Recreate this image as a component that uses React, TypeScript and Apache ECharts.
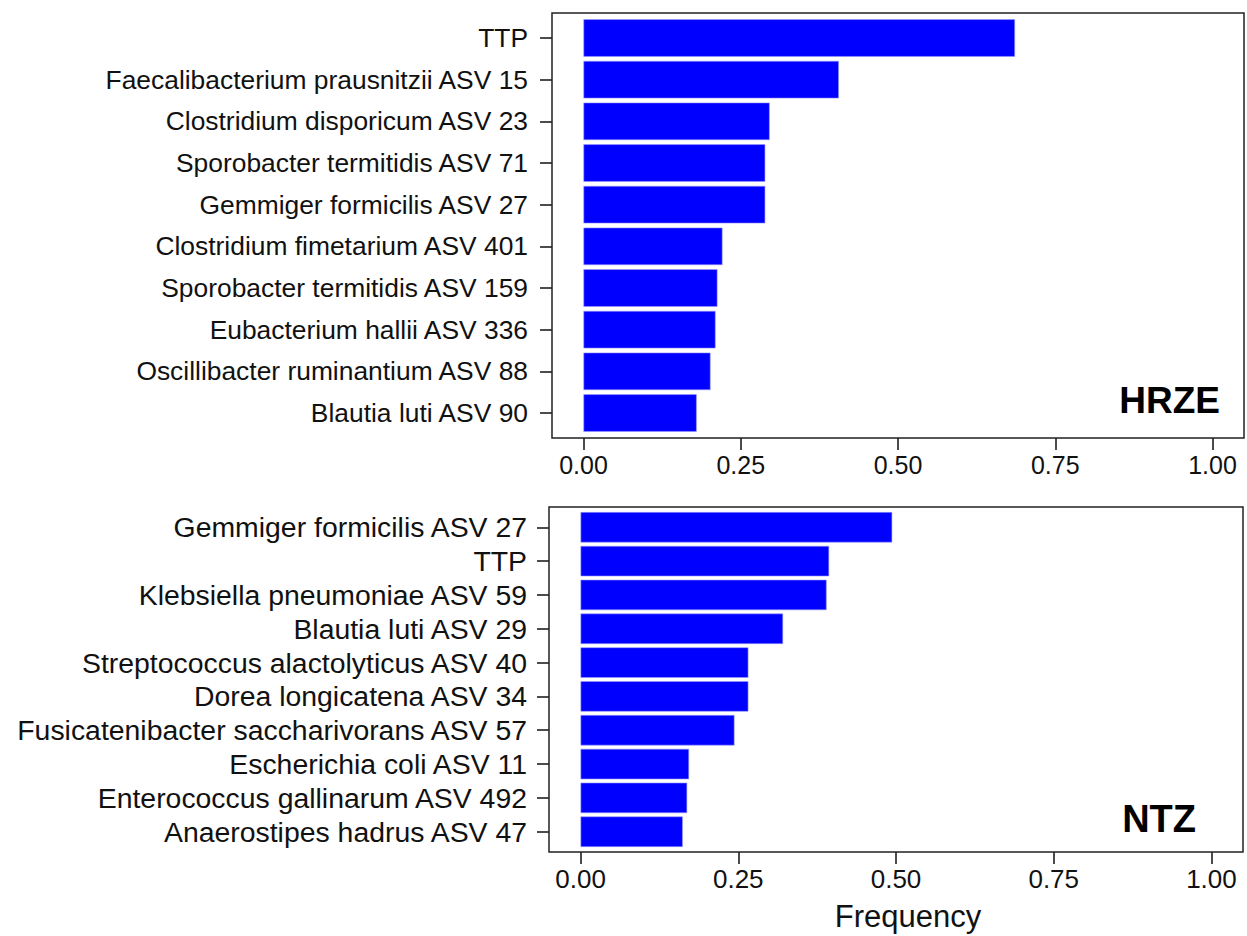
import React, { useEffect, useRef } from "react";
import * as echarts from "echarts";

const hrzeCategories = [
  "TTP",
  "Faecalibacterium prausnitzii ASV 15",
  "Clostridium disporicum ASV 23",
  "Sporobacter termitidis ASV 71",
  "Gemmiger formicilis ASV 27",
  "Clostridium fimetarium ASV 401",
  "Sporobacter termitidis ASV 159",
  "Eubacterium hallii ASV 336",
  "Oscillibacter ruminantium ASV 88",
  "Blautia luti ASV 90",
];
const hrzeValues = [0.686, 0.406, 0.296, 0.289, 0.289, 0.221, 0.213, 0.21, 0.202, 0.18];

const ntzCategories = [
  "Gemmiger formicilis ASV 27",
  "TTP",
  "Klebsiella pneumoniae ASV 59",
  "Blautia luti ASV 29",
  "Streptococcus alactolyticus ASV 40",
  "Dorea longicatena ASV 34",
  "Fusicatenibacter saccharivorans ASV 57",
  "Escherichia coli ASV 11",
  "Enterococcus gallinarum ASV 492",
  "Anaerostipes hadrus ASV 47",
];
const ntzValues = [0.494, 0.394, 0.39, 0.321, 0.266, 0.266, 0.244, 0.172, 0.169, 0.162];

const xTicks = [0, 0.25, 0.5, 0.75, 1];

const FONT = "'Liberation Sans', Arial, sans-serif";

export default function App() {
  const ref = useRef<HTMLDivElement>(null);
  useEffect(() => {
    document.body.style.margin = "0";
    const chart = echarts.init(ref.current!, null, { renderer: "svg" });

    const panels = [
      {
        box: { x: 552, y: 13, w: 692, h: 425 },
        cats: hrzeCategories,
        vals: hrzeValues,
        yFont: 26.4,
        xFont: 25,
        yMargin: 24,
      },
      {
        box: { x: 549, y: 507, w: 694, h: 345 },
        cats: ntzCategories,
        vals: ntzValues,
        yFont: 28.4,
        xFont: 26,
        yMargin: 22,
      },
    ];

    const grids: any[] = [];
    const xAxes: any[] = [];
    const yAxes: any[] = [];
    const series: any[] = [];
    const boxes: any[] = [];

    panels.forEach((p, i) => {
      const unit = p.box.h / 10.2;
      const top = p.box.y + 0.1 * unit;
      const height = 10 * unit;
      const offset = p.box.y + p.box.h - (top + height);
      grids.push({ left: p.box.x, top, width: p.box.w, height });
      xAxes.push({
        type: "value",
        gridIndex: i,
        min: -0.05,
        max: 1.05,
        offset,
        axisLine: { show: false, onZero: false },
        splitLine: { show: false },
        axisTick: {
          show: true,
          length: 12,
          customValues: xTicks,
          lineStyle: { color: "#111", width: 1.5 },
        },
        axisLabel: {
          customValues: xTicks,
          formatter: (v: number) => v.toFixed(2),
          fontSize: p.xFont,
          margin: 14,
          color: "#111",
          fontFamily: FONT,
        },
      });
      yAxes.push({
        type: "category",
        gridIndex: i,
        data: p.cats,
        inverse: true,
        position: "left",
        axisLine: { show: false, onZero: false },
        axisTick: {
          show: true,
          interval: 0,
          alignWithLabel: true,
          length: 12,
          lineStyle: { color: "#111", width: 1.5 },
        },
        axisLabel: {
          interval: 0,
          hideOverlap: false,
          fontSize: p.yFont,
          margin: p.yMargin,
          color: "#111",
          fontFamily: FONT,
        },
      });
      series.push({
        type: "bar",
        xAxisIndex: i,
        yAxisIndex: i,
        data: p.vals,
        barWidth: "90%",
        itemStyle: { color: "#0000ff", borderColor: "#9999ff", borderWidth: 0.6 },
      });
      boxes.push({
        type: "rect",
        shape: { x: p.box.x, y: p.box.y, width: p.box.w, height: p.box.h },
        style: { fill: "none", stroke: "#222", lineWidth: 1.5 },
        z: 100,
      });
    });

    chart.setOption({
      animation: false,
      backgroundColor: "#ffffff",
      grid: grids,
      xAxis: xAxes,
      yAxis: yAxes,
      series,
      graphic: [
        ...boxes,
        {
          type: "text",
          x: 1220,
          y: 400,
          z: 101,
          style: {
            text: "HRZE",
            font: `bold 37px ${FONT}`,
            fill: "#000",
            textAlign: "right",
            textVerticalAlign: "middle",
          },
        },
        {
          type: "text",
          x: 1196,
          y: 819,
          z: 101,
          style: {
            text: "NTZ",
            font: `bold 38px ${FONT}`,
            fill: "#000",
            textAlign: "right",
            textVerticalAlign: "middle",
          },
        },
        {
          type: "text",
          x: 908,
          y: 916,
          z: 101,
          style: {
            text: "Frequency",
            font: `31px ${FONT}`,
            fill: "#111",
            textAlign: "center",
            textVerticalAlign: "middle",
          },
        },
      ],
    });
    return () => chart.dispose();
  }, []);
  return (
    <div
      ref={ref}
      style={{ position: "absolute", left: 0, top: 0, width: 1247, height: 936 }}
    />
  );
}
